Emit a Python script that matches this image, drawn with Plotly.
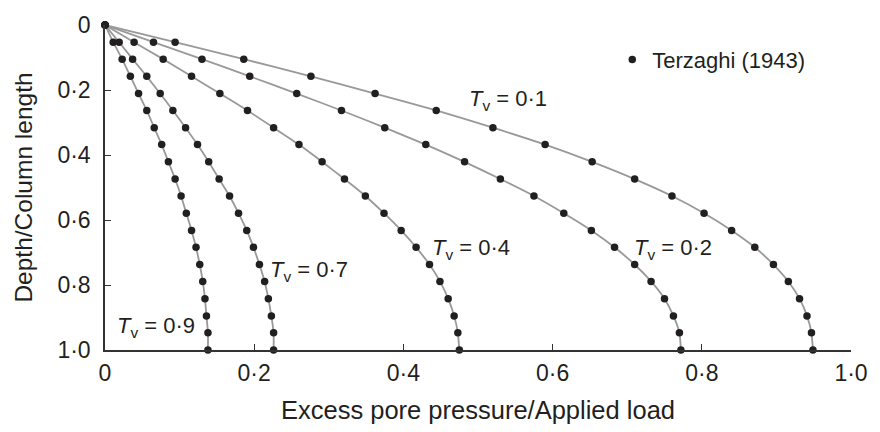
import plotly.graph_objects as go

# Depth / column length at which the isochrones are plotted
depth = [0, 0.053, 0.105, 0.158, 0.211, 0.263, 0.316, 0.368, 0.421, 0.474,
         0.526, 0.579, 0.632, 0.684, 0.737, 0.789, 0.842, 0.895, 0.947, 1.0]

# Excess pore pressure / applied load for each time factor Tv
u_tv01 = [0, 0.094, 0.186, 0.276, 0.362, 0.444, 0.520, 0.590, 0.653, 0.710,
          0.760, 0.803, 0.840, 0.871, 0.896, 0.916, 0.931, 0.941, 0.947, 0.949]
u_tv02 = [0, 0.065, 0.130, 0.194, 0.257, 0.317, 0.375, 0.430, 0.482, 0.530,
          0.575, 0.615, 0.652, 0.683, 0.710, 0.732, 0.750, 0.762, 0.770, 0.772]
u_tv04 = [0, 0.039, 0.078, 0.116, 0.154, 0.191, 0.226, 0.260, 0.291, 0.321,
          0.349, 0.374, 0.397, 0.417, 0.435, 0.449, 0.460, 0.468, 0.473, 0.475]
u_tv07 = [0, 0.019, 0.037, 0.056, 0.074, 0.091, 0.108, 0.124, 0.139, 0.153,
          0.167, 0.179, 0.190, 0.199, 0.207, 0.214, 0.219, 0.223, 0.226, 0.226]
u_tv09 = [0, 0.011, 0.023, 0.034, 0.045, 0.056, 0.066, 0.076, 0.085, 0.094,
          0.102, 0.109, 0.116, 0.122, 0.127, 0.131, 0.134, 0.136, 0.138, 0.138]

series = [("0·1", u_tv01), ("0·2", u_tv02), ("0·4", u_tv04),
          ("0·7", u_tv07), ("0·9", u_tv09)]

# Curve label anchors (left edge of "Tv = ..." text)
label_tv = ["0·1", "0·2", "0·4", "0·7", "0·9"]
label_x = [0.485, 0.707, 0.436, 0.219, 0.013]
label_y = [0.230, 0.690, 0.690, 0.758, 0.930]

tick_vals = [0, 0.2, 0.4, 0.6, 0.8, 1.0]
tick_text = ["0", "0·2", "0·4", "0·6", "0·8", "1·0"]

FONT = "Liberation Sans, Arial, sans-serif"
INK = "#231f20"
LINE_GREY = "#999999"

fig = go.Figure()

# Grey isochrone lines
for tv, u in series:
    fig.add_trace(go.Scatter(
        x=u, y=depth, mode="lines",
        line=dict(color=LINE_GREY, width=1.8, shape="spline", smoothing=0.5),
        showlegend=False, hoverinfo="skip", cliponaxis=False,
    ))

# Terzaghi (1943) points on top of the lines
for i, (tv, u) in enumerate(series):
    fig.add_trace(go.Scatter(
        x=u, y=depth, mode="markers",
        marker=dict(color=INK, size=7.5),
        name="Terzaghi (1943)", legendgroup="terzaghi",
        showlegend=(i == 0), cliponaxis=False,
    ))

for tv, lx, ly in zip(label_tv, label_x, label_y):
    fig.add_annotation(
        x=lx, y=ly, xref="x", yref="y",
        text=f"<i>T</i><sub>v</sub> = {tv}",
        showarrow=False, xanchor="left", yanchor="middle",
        font=dict(family=FONT, size=22, color=INK),
    )

axis_common = dict(
    showgrid=False, zeroline=False, showline=True,
    linecolor="#333333", linewidth=1.5,
    ticks="inside", ticklen=6, tickwidth=1.3, tickcolor="#333333",
    tickvals=tick_vals, ticktext=tick_text,
    tickfont=dict(family=FONT, size=23, color=INK),
)

fig.update_xaxes(
    range=[0, 1], **axis_common, ticklabelstandoff=2,
    title=dict(text="Excess pore pressure/Applied load",
               font=dict(family=FONT, size=25.5, color=INK), standoff=16),
)
fig.update_yaxes(
    range=[1, 0], **axis_common, ticklabelstandoff=8,
    title=dict(text="Depth/Column length",
               font=dict(family=FONT, size=24.5, color=INK), standoff=18),
)

fig.update_layout(
    width=880, height=432,
    margin=dict(l=105, r=23, t=15, b=81),
    paper_bgcolor="white", plot_bgcolor="white",
    legend=dict(x=0.68, y=0.893, xanchor="left", yanchor="middle",
                font=dict(family=FONT, size=22, color=INK),
                bgcolor="rgba(0,0,0,0)"),
)

fig.write_html("out.html")
